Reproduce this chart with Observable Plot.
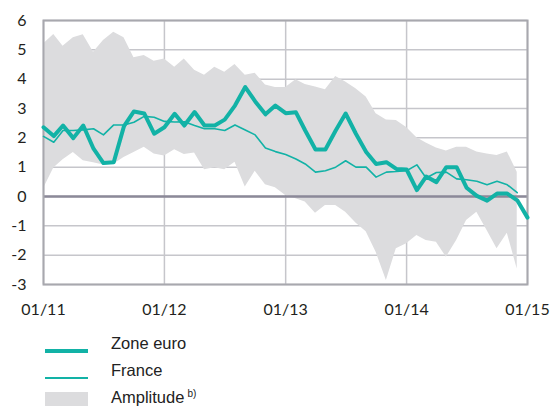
<!DOCTYPE html>
<html><head><meta charset="utf-8">
<script src="https://cdn.jsdelivr.net/npm/d3@7"></script>
<script src="https://cdn.jsdelivr.net/npm/@observablehq/plot@0.6"></script>
<style>
body{margin:0;background:#fff;}
#wrap{position:relative;width:552px;height:407px;overflow:hidden;}
.leg{position:absolute;font-family:"Liberation Sans",Arial,sans-serif;font-size:16.5px;line-height:18px;color:#222;white-space:nowrap;}
.sw{position:absolute;}
sup{font-size:10px;vertical-align:6px;margin-left:3px;}
</style></head><body><div id="wrap"></div>
<script>
// Monthly data, Jan 2011 ... Jan 2015
const zoneEuro = [2.36,2.06,2.42,1.99,2.42,1.63,1.14,1.17,2.4,2.9,
  2.83,2.14,2.36,2.82,2.42,2.88,2.42,2.42,2.62,3.1,
  3.73,3.24,2.8,3.1,2.84,2.87,2.25,1.6,1.6,2.25,
  2.83,2.14,1.52,1.11,1.17,0.94,0.92,0.22,0.68,0.49,
  1.0,1.0,0.3,0.02,-0.14,0.1,0.1,-0.13,-0.72];
const france = [2.05,1.85,2.25,2.25,2.27,2.31,2.1,2.44,2.44,2.53,
  2.73,2.7,2.56,2.54,2.55,2.42,2.31,2.31,2.25,2.44,
  2.27,2.1,1.65,1.53,1.43,1.28,1.11,0.83,0.88,1.0,
  1.22,1.0,1.0,0.66,0.83,0.85,0.88,1.08,0.63,0.82,
  0.83,0.6,0.57,0.52,0.4,0.52,0.4,0.13];
const ampMax = [5.2,5.52,5.12,5.41,5.51,4.92,5.32,5.6,5.41,4.73,
  4.81,4.61,4.69,4.41,4.69,4.3,4.13,4.41,4.24,4.5,
  4.13,4.2,3.8,3.72,3.72,3.98,3.82,3.73,3.64,4.09,
  3.9,3.67,3.39,2.82,2.61,2.59,2.35,2.0,1.82,1.65,
  1.55,1.68,1.68,1.52,1.45,1.4,1.52,0.83];
const ampMin = [0.26,0.97,1.25,1.5,1.22,1.15,1.07,1.1,1.33,1.5,
  1.68,1.45,1.38,1.59,1.43,1.48,0.91,0.98,0.91,1.17,
  0.32,0.86,0.4,0.3,0.03,-0.08,-0.19,-0.57,-0.31,-0.31,
  -0.54,-0.9,-1.2,-1.9,-2.86,-1.78,-1.61,-1.33,-1.5,-1.56,
  -2.07,-1.5,-0.82,-0.54,-1.16,-1.78,-1.25,-2.47];
const xTickLabels = ["01/11","01/12","01/13","01/14","01/15"];
const yTicks = [-3,-2,-1,0,1,2,3,4,5,6];
const legendLabels = ["Zone euro","France","Amplitude"];

const start = new Date(Date.UTC(2011,0,1));
const months = d3.utcMonth.range(start, new Date(Date.UTC(2015,1,1)));
const xTickDates = [2011,2012,2013,2014,2015].map(y => new Date(Date.UTC(y,0,1)));

const zeData = zoneEuro.map((v,i)=>({date:months[i], v}));
const frData = france.map((v,i)=>({date:months[i], v}));
const ampData = ampMax.map((hi,i)=>({date:months[i], hi, lo:ampMin[i]}));

const teal = "#12b2a6";
const chart = Plot.plot({
  width:552, height:325, marginLeft:43, marginRight:25, marginTop:20, marginBottom:41,
  style:{fontFamily:"Lato, 'Liberation Sans', sans-serif", fontSize:"16px", color:"#231f20", background:"#fff", overflow:"visible"},
  x:{type:"utc", domain:[xTickDates[0], xTickDates[4]], ticks:xTickDates,
     tickFormat:d => xTickLabels[xTickDates.findIndex(t => +t === +d)], tickSize:0, tickPadding:19, label:null},
  y:{domain:[-3,6], ticks:yTicks, tickFormat:d => String(d), tickSize:0, tickPadding:17, label:null},
  marks:[
    Plot.ruleY(yTicks, {stroke:"#c6c6cb", strokeWidth:1.5}),
    Plot.ruleX(xTickDates, {stroke:"#c6c6cb", strokeWidth:1.5}),
    Plot.areaY(ampData, {x:"date", y1:"lo", y2:"hi", fill:"#dcdcde"}),
    Plot.ruleY([0], {stroke:"#8b8998", strokeWidth:2.5}),
    Plot.frame({stroke:"#a8a8ae", strokeWidth:2}),
    Plot.lineY(frData, {x:"date", y:"v", stroke:teal, strokeWidth:1.6}),
    Plot.lineY(zeData, {x:"date", y:"v", stroke:teal, strokeWidth:4})
  ]
});
const wrap = document.getElementById("wrap");
chart.style.position = "absolute"; chart.style.left = "0"; chart.style.top = "0";
wrap.appendChild(chart);

function add(html, cls, css){
  const d = document.createElement("div");
  d.className = cls; d.innerHTML = html;
  Object.assign(d.style, css);
  wrap.appendChild(d);
}
add("", "sw", {left:"45px", top:"349px", width:"43px", height:"4px", background:teal});
add(legendLabels[0], "leg", {left:"111px", top:"334px"});
add("", "sw", {left:"45px", top:"377px", width:"43px", height:"2px", background:teal});
add(legendLabels[1], "leg", {left:"111px", top:"361px"});
add("", "sw", {left:"45px", top:"392px", width:"43px", height:"14px", background:"#dcdcde"});
add(legendLabels[2] + "<sup>b)</sup>", "leg", {left:"111px", top:"385px"});
</script></body></html>
